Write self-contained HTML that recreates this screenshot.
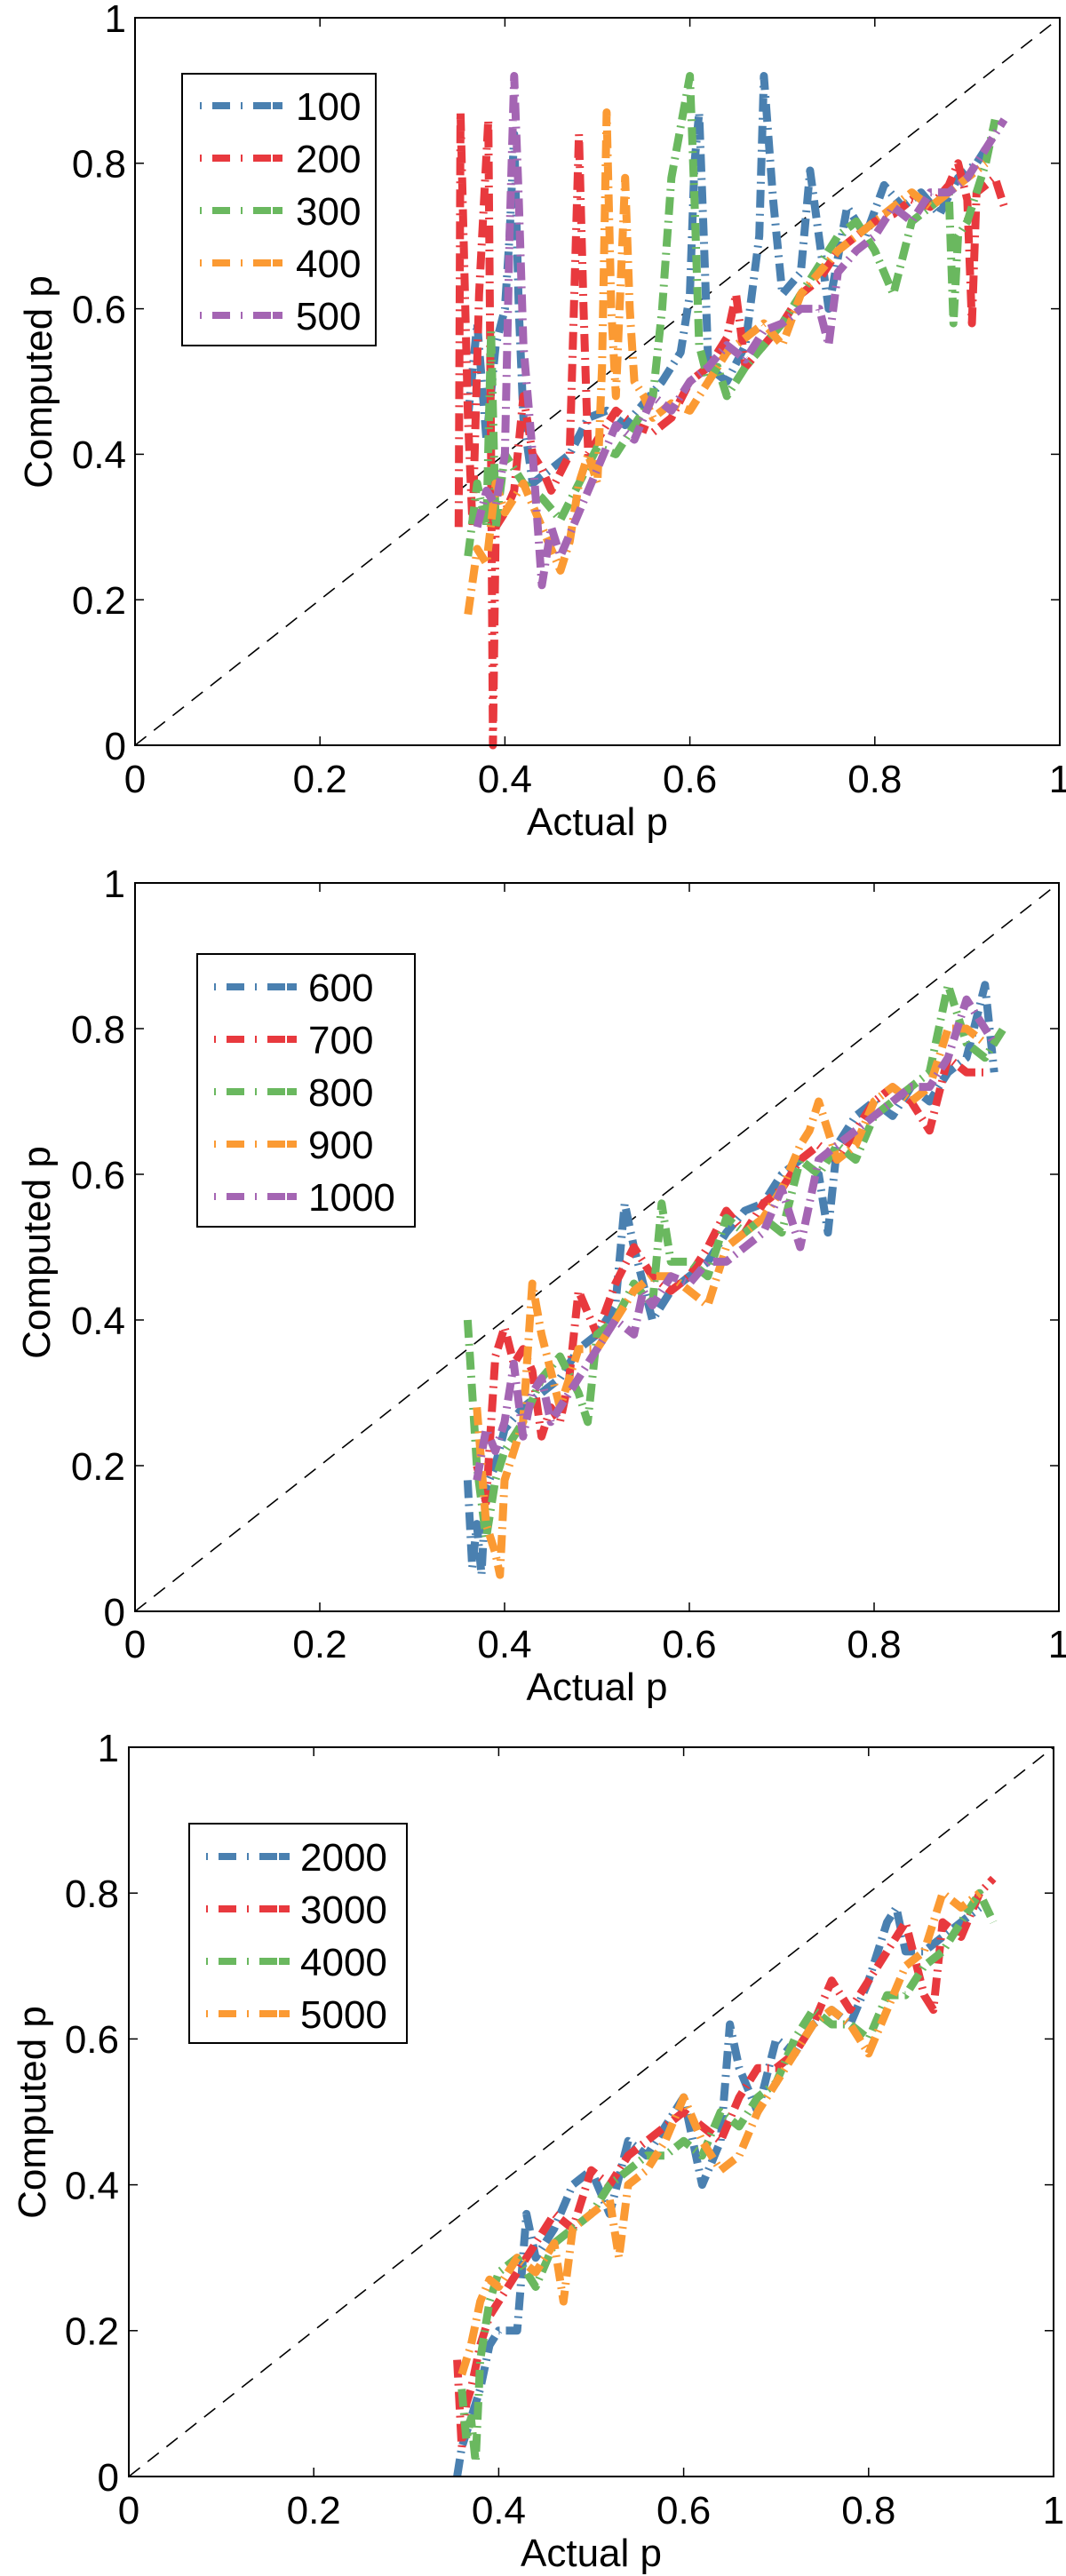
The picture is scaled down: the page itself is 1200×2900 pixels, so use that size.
<!DOCTYPE html>
<html><head><meta charset="utf-8"><style>
html,body{margin:0;padding:0;background:#fff}
svg{display:block}
text{font-family:"Liberation Sans",sans-serif;fill:#000}
</style></head><body>
<svg id="fig" width="1200" height="2900" viewBox="0 0 1200 2900" xmlns="http://www.w3.org/2000/svg"></svg>
<script>
// ---- Panel 1 data ----
const p1Labels = ["100","200","300","400","500"];
const p1x100 = [0.36,0.37,0.375,0.38,0.39,0.40,0.405,0.41,0.415,0.42,0.43,0.45,0.47,0.49,0.51,0.53,0.55,0.57,0.59,0.60,0.605,0.61,0.615,0.62,0.64,0.66,0.675,0.68,0.69,0.70,0.72,0.73,0.75,0.77,0.79,0.81,0.83,0.85,0.87,0.89,0.91,0.92];
const p1y100 = [0.45,0.58,0.50,0.42,0.55,0.60,0.70,0.84,0.60,0.45,0.36,0.38,0.40,0.45,0.46,0.44,0.47,0.50,0.54,0.62,0.80,0.87,0.70,0.52,0.50,0.55,0.70,0.92,0.75,0.62,0.65,0.79,0.60,0.74,0.70,0.77,0.74,0.76,0.73,0.78,0.80,0.82];
const p1x200 = [0.35,0.352,0.36,0.365,0.372,0.382,0.385,0.387,0.39,0.40,0.41,0.42,0.43,0.44,0.45,0.47,0.48,0.485,0.49,0.50,0.52,0.54,0.56,0.58,0.60,0.62,0.64,0.65,0.66,0.68,0.70,0.72,0.74,0.76,0.78,0.80,0.82,0.84,0.86,0.88,0.89,0.90,0.905,0.91,0.93,0.94];
const p1y200 = [0.30,0.87,0.45,0.30,0.62,0.86,0.40,0.0,0.30,0.32,0.35,0.48,0.40,0.38,0.35,0.40,0.84,0.60,0.40,0.42,0.46,0.44,0.43,0.45,0.50,0.52,0.56,0.62,0.52,0.55,0.58,0.62,0.64,0.68,0.70,0.72,0.73,0.75,0.74,0.77,0.80,0.75,0.58,0.76,0.78,0.74];
const p1x300 = [0.36,0.37,0.38,0.385,0.39,0.40,0.42,0.44,0.46,0.48,0.50,0.52,0.54,0.56,0.57,0.58,0.59,0.60,0.605,0.61,0.62,0.63,0.64,0.66,0.68,0.70,0.72,0.74,0.76,0.78,0.80,0.82,0.84,0.86,0.88,0.885,0.89,0.90,0.92,0.93];
const p1y300 = [0.26,0.36,0.30,0.57,0.30,0.40,0.36,0.34,0.31,0.36,0.41,0.40,0.44,0.48,0.60,0.78,0.85,0.92,0.75,0.55,0.50,0.52,0.48,0.52,0.55,0.58,0.62,0.66,0.70,0.72,0.68,0.62,0.72,0.74,0.76,0.58,0.70,0.72,0.80,0.86];
const p1x400 = [0.36,0.37,0.38,0.39,0.40,0.42,0.44,0.46,0.47,0.48,0.49,0.50,0.505,0.51,0.515,0.52,0.53,0.535,0.54,0.55,0.56,0.58,0.60,0.62,0.64,0.66,0.68,0.70,0.72,0.74,0.76,0.78,0.80,0.82,0.84,0.86,0.88,0.90,0.92];
const p1y400 = [0.18,0.27,0.25,0.36,0.32,0.36,0.30,0.24,0.28,0.36,0.40,0.36,0.52,0.87,0.60,0.48,0.78,0.60,0.50,0.48,0.45,0.47,0.46,0.50,0.54,0.56,0.58,0.55,0.62,0.65,0.68,0.70,0.72,0.74,0.76,0.74,0.76,0.78,0.80];
const p1x500 = [0.37,0.38,0.39,0.40,0.405,0.41,0.415,0.42,0.43,0.44,0.45,0.46,0.48,0.50,0.52,0.54,0.56,0.58,0.60,0.62,0.64,0.66,0.68,0.70,0.72,0.74,0.75,0.76,0.78,0.80,0.82,0.84,0.86,0.88,0.90,0.92,0.94];
const p1y500 = [0.30,0.35,0.33,0.40,0.70,0.92,0.75,0.55,0.40,0.22,0.30,0.26,0.32,0.38,0.44,0.42,0.48,0.46,0.50,0.52,0.55,0.53,0.57,0.58,0.60,0.60,0.55,0.65,0.68,0.70,0.74,0.72,0.76,0.76,0.78,0.82,0.86];
// ---- Panel 2 data ----
const p2Labels = ["600","700","800","900","1000"];
const p2x600 = [0.36,0.365,0.37,0.375,0.38,0.39,0.40,0.42,0.44,0.46,0.48,0.50,0.52,0.53,0.54,0.56,0.58,0.60,0.62,0.64,0.66,0.68,0.70,0.72,0.74,0.75,0.76,0.78,0.80,0.82,0.84,0.86,0.88,0.90,0.92,0.93];
const p2y600 = [0.18,0.06,0.12,0.05,0.17,0.20,0.25,0.28,0.30,0.32,0.36,0.38,0.42,0.56,0.50,0.40,0.44,0.46,0.48,0.52,0.55,0.56,0.60,0.62,0.60,0.52,0.64,0.68,0.70,0.68,0.72,0.70,0.74,0.76,0.86,0.74];
const p2x700 = [0.37,0.38,0.39,0.40,0.41,0.42,0.43,0.44,0.45,0.46,0.47,0.48,0.50,0.52,0.54,0.56,0.58,0.60,0.62,0.64,0.66,0.68,0.70,0.72,0.74,0.76,0.78,0.80,0.82,0.84,0.86,0.88,0.90,0.92];
const p2y700 = [0.20,0.15,0.35,0.39,0.34,0.36,0.33,0.24,0.28,0.26,0.32,0.44,0.38,0.45,0.50,0.46,0.44,0.46,0.50,0.55,0.52,0.56,0.58,0.62,0.64,0.62,0.66,0.70,0.72,0.70,0.66,0.76,0.74,0.74];
const p2x800 = [0.36,0.365,0.37,0.38,0.39,0.40,0.42,0.44,0.46,0.48,0.49,0.50,0.52,0.54,0.56,0.57,0.58,0.60,0.62,0.64,0.66,0.68,0.70,0.72,0.74,0.76,0.78,0.80,0.82,0.84,0.86,0.88,0.90,0.92,0.94];
const p2y800 = [0.40,0.30,0.20,0.10,0.18,0.22,0.26,0.32,0.35,0.30,0.26,0.38,0.40,0.45,0.42,0.56,0.48,0.48,0.46,0.54,0.52,0.54,0.52,0.62,0.60,0.64,0.62,0.68,0.70,0.72,0.74,0.86,0.78,0.76,0.80];
const p2x900 = [0.37,0.38,0.39,0.395,0.40,0.42,0.43,0.44,0.46,0.48,0.50,0.52,0.54,0.56,0.58,0.60,0.62,0.64,0.66,0.68,0.70,0.72,0.73,0.74,0.76,0.78,0.80,0.82,0.84,0.86,0.88,0.90,0.92];
const p2y900 = [0.28,0.12,0.08,0.05,0.18,0.26,0.45,0.38,0.28,0.36,0.36,0.40,0.44,0.46,0.46,0.44,0.42,0.50,0.52,0.54,0.58,0.64,0.66,0.70,0.62,0.64,0.70,0.72,0.70,0.72,0.80,0.80,0.78];
const p2x1000 = [0.37,0.38,0.39,0.40,0.41,0.42,0.43,0.44,0.45,0.46,0.48,0.50,0.52,0.54,0.55,0.56,0.58,0.60,0.62,0.64,0.66,0.68,0.70,0.72,0.74,0.76,0.78,0.80,0.82,0.84,0.86,0.88,0.90,0.92,0.93];
const p2y1000 = [0.18,0.25,0.22,0.26,0.34,0.24,0.30,0.32,0.26,0.28,0.32,0.36,0.40,0.38,0.44,0.42,0.46,0.45,0.48,0.48,0.50,0.52,0.58,0.50,0.62,0.64,0.66,0.68,0.70,0.72,0.72,0.76,0.84,0.80,0.78];
// ---- Panel 3 data ----
const p3Labels = ["2000","3000","4000","5000"];
const p3x2000 = [0.355,0.36,0.37,0.38,0.39,0.40,0.42,0.43,0.44,0.46,0.48,0.50,0.52,0.54,0.56,0.58,0.60,0.62,0.64,0.65,0.66,0.68,0.70,0.72,0.74,0.76,0.78,0.80,0.82,0.83,0.84,0.86,0.88,0.90,0.92];
const p3y2000 = [0.00,0.04,0.08,0.12,0.18,0.20,0.20,0.36,0.30,0.34,0.40,0.42,0.36,0.46,0.44,0.48,0.52,0.40,0.46,0.62,0.56,0.50,0.60,0.58,0.62,0.64,0.62,0.68,0.76,0.78,0.72,0.72,0.74,0.76,0.78];
const p3x3000 = [0.355,0.36,0.365,0.37,0.38,0.39,0.40,0.42,0.44,0.46,0.48,0.50,0.52,0.54,0.56,0.58,0.60,0.62,0.64,0.66,0.68,0.70,0.72,0.74,0.76,0.78,0.80,0.82,0.84,0.86,0.87,0.88,0.90,0.92,0.935];
const p3y3000 = [0.16,0.04,0.10,0.12,0.18,0.22,0.24,0.28,0.32,0.36,0.34,0.42,0.40,0.44,0.46,0.48,0.50,0.48,0.46,0.52,0.56,0.56,0.58,0.62,0.68,0.64,0.68,0.72,0.76,0.66,0.64,0.76,0.74,0.80,0.82];
const p3x4000 = [0.36,0.365,0.37,0.375,0.38,0.39,0.40,0.42,0.44,0.46,0.48,0.50,0.52,0.54,0.56,0.58,0.60,0.62,0.64,0.66,0.68,0.70,0.72,0.74,0.76,0.78,0.80,0.82,0.84,0.86,0.88,0.90,0.92,0.935];
const p3y4000 = [0.12,0.05,0.08,0.02,0.16,0.24,0.28,0.30,0.26,0.32,0.34,0.36,0.40,0.42,0.44,0.44,0.46,0.44,0.50,0.48,0.52,0.54,0.60,0.64,0.62,0.62,0.60,0.66,0.66,0.70,0.72,0.76,0.80,0.76];
const p3x5000 = [0.36,0.37,0.38,0.39,0.40,0.42,0.44,0.46,0.47,0.48,0.50,0.52,0.53,0.54,0.56,0.58,0.60,0.62,0.64,0.66,0.68,0.70,0.72,0.74,0.76,0.78,0.80,0.82,0.84,0.86,0.88,0.90,0.92];
const p3y5000 = [0.14,0.18,0.24,0.27,0.26,0.30,0.28,0.32,0.24,0.34,0.36,0.38,0.30,0.40,0.42,0.46,0.52,0.46,0.42,0.44,0.50,0.54,0.58,0.62,0.64,0.62,0.58,0.64,0.70,0.72,0.80,0.78,0.80];
const tickValues = [0,0.2,0.4,0.6,0.8,1];
const tickLabels = ["0","0.2","0.4","0.6","0.8","1"];

const COLORS = ["#4a80b0","#e8393e","#6ab85f","#fb9a33","#a465b3"];
const NS = "http://www.w3.org/2000/svg";
const svg = document.getElementById("fig");
function mk(tag, parent){ const e=document.createElementNS(NS,tag); parent.appendChild(e); return e; }

function drawPanel(id, box, labels, xsList, ysList, leg, lab){
  const g = mk("g", svg);
  
  
  const sx = v => box.l + v*(box.r-box.l);
  const sy = v => box.b - v*(box.b-box.t);
  const d = mk("line", g);
  
  
  d.setAttribute("x1", sx(0)); d.setAttribute("y1", sy(0)); d.setAttribute("x2", sx(1)); d.setAttribute("y2", sy(1));
  d.setAttribute("stroke","#000"); d.setAttribute("stroke-width","1.6"); d.setAttribute("stroke-dasharray","16 11");
  for(let i=0;i<xsList.length;i++){
    const xs=xsList[i], ys=ysList[i], n=Math.min(xs.length,ys.length);
    let pts=[];
    for(let k=0;k<n;k++) pts.push(sx(xs[k]).toFixed(1)+","+sy(ys[k]).toFixed(1));
    const pl = mk("polyline", g);
    
    
    pl.setAttribute("points", pts.join(" "));
    pl.setAttribute("fill","none"); pl.setAttribute("stroke",COLORS[i]);
    pl.setAttribute("stroke-width","9"); pl.setAttribute("stroke-dasharray","20 7 2 7");
    pl.setAttribute("stroke-linejoin","round");
  }
  const rect = mk("rect", g);
  
  
  rect.setAttribute("x",box.l); rect.setAttribute("y",box.t); rect.setAttribute("width",box.r-box.l); rect.setAttribute("height",box.b-box.t);
  rect.setAttribute("fill","none"); rect.setAttribute("stroke","#000"); rect.setAttribute("stroke-width","2");
  for(let i=0;i<tickValues.length;i++){
    const v=tickValues[i];
    const segs=[[sx(v),box.b,sx(v),box.b-10],[sx(v),box.t,sx(v),box.t+10],[box.l,sy(v),box.l+10,sy(v)],[box.r,sy(v),box.r-10,sy(v)]];
    for(const s of segs){
      const t=mk("line",g);
      
      
      t.setAttribute("x1",s[0]);t.setAttribute("y1",s[1]);t.setAttribute("x2",s[2]);t.setAttribute("y2",s[3]);
      t.setAttribute("stroke","#000");t.setAttribute("stroke-width","1.5");
    }
    const tx=mk("text",g);
    
    
    tx.setAttribute("x",sx(v)); tx.setAttribute("y",lab.xtY); tx.setAttribute("text-anchor","middle");
    tx.setAttribute("font-size",lab.fs); tx.textContent=tickLabels[i];
    const ty=mk("text",g);
    
    
    ty.setAttribute("x",lab.ytX); ty.setAttribute("y",sy(v)+lab.fs*0.36); ty.setAttribute("text-anchor","end");
    ty.setAttribute("font-size",lab.fs); ty.textContent=tickLabels[i];
  }
  const xt=mk("text",g);
  
  
  xt.setAttribute("x",(box.l+box.r)/2); xt.setAttribute("y",lab.xTitleY); xt.setAttribute("text-anchor","middle");
  xt.setAttribute("font-size",lab.fs); xt.textContent="Actual p";
  const yt=mk("text",g);
  
  
  yt.setAttribute("transform","translate("+lab.yTitleX+","+lab.yTitleY+") rotate(-90)");
  yt.setAttribute("text-anchor","middle"); yt.setAttribute("font-size",lab.fs); yt.textContent="Computed p";
  const lg=mk("g",g);
  
  
  const lr=mk("rect",lg);
  
  
  lr.setAttribute("x",leg.x); lr.setAttribute("y",leg.y); lr.setAttribute("width",leg.w); lr.setAttribute("height",leg.h);
  lr.setAttribute("fill","#fff"); lr.setAttribute("stroke","#000"); lr.setAttribute("stroke-width","2");
  for(let i=0;i<labels.length;i++){
    const y=leg.y0+i*leg.dy;
    const ll=mk("line",lg);
    
    
    ll.setAttribute("x1",leg.lx1); ll.setAttribute("x2",leg.lx2); ll.setAttribute("y1",y); ll.setAttribute("y2",y);
    ll.setAttribute("stroke",COLORS[i]); ll.setAttribute("stroke-width","8"); ll.setAttribute("stroke-dasharray","2 12 20 12 2 12 20");
    const lt=mk("text",lg);
    
    
    lt.setAttribute("x",leg.tx); lt.setAttribute("y",y+lab.fs*0.36); lt.setAttribute("font-size",lab.fs);
    lt.textContent=labels[i];
  }
}

drawPanel("panel-100-500",{l:152,r:1193,t:20,b:839},p1Labels,
  [p1x100,p1x200,p1x300,p1x400,p1x500],[p1y100,p1y200,p1y300,p1y400,p1y500],
  {x:205,y:83,w:218,h:306,y0:119,dy:59,lx1:225,lx2:318,tx:333},
  {fs:44,xtY:892,ytX:142,xTitleY:940,yTitleX:58,yTitleY:430});
drawPanel("panel-600-1000",{l:152,r:1192,t:994,b:1814},p2Labels,
  [p2x600,p2x700,p2x800,p2x900,p2x1000],[p2y600,p2y700,p2y800,p2y900,p2y1000],
  {x:222,y:1074,w:245,h:307,y0:1111,dy:59,lx1:241,lx2:334,tx:347},
  {fs:44,xtY:1866,ytX:141,xTitleY:1914,yTitleX:56,yTitleY:1410});
drawPanel("panel-2000-5000",{l:145,r:1186,t:1967,b:2788},p3Labels,
  [p3x2000,p3x3000,p3x4000,p3x5000],[p3y2000,p3y3000,p3y4000,p3y5000],
  {x:213,y:2053,w:245,h:247,y0:2090,dy:59,lx1:232,lx2:326,tx:338},
  {fs:44,xtY:2841,ytX:134,xTitleY:2889,yTitleX:51,yTitleY:2378});
</script>
</body></html>
